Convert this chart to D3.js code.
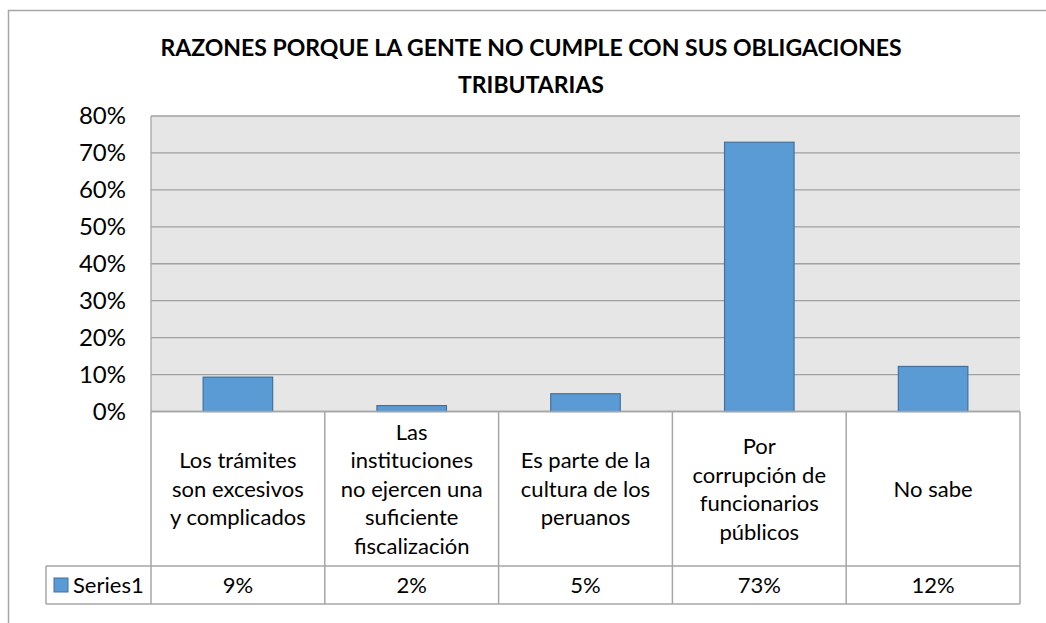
<!DOCTYPE html>
<html>
<head>
<meta charset="utf-8">
<script src="https://cdn.jsdelivr.net/npm/d3@7"></script>
<style>
  body { margin: 0; background: #fff; }
  svg { display: block; font-family: Lato, "Open Sans", sans-serif; }
</style>
</head>
<body>
<div id="chart"></div>
<script>
// data
categories = [
  ['Los trámites', 'son excesivos', 'y complicados'],
  ['Las', 'instituciones', 'no ejercen una', 'suficiente', 'fiscalización'],
  ['Es parte de la', 'cultura de los', 'peruanos'],
  ['Por', 'corrupción de', 'funcionarios', 'públicos'],
  ['No sabe']
];
values = [0.093, 0.016, 0.048, 0.729, 0.122];
valueLabels = ['9%', '2%', '5%', '73%', '12%'];
yTicks = [0, 0.1, 0.2, 0.3, 0.4, 0.5, 0.6, 0.7, 0.8];
seriesName = 'Series1';
titleLines = ['RAZONES PORQUE LA GENTE NO CUMPLE CON SUS OBLIGACIONES', 'TRIBUTARIAS'];

W = 1046;
H = 623;
plot_l = 151;
plot_r = 1020;
plot_t = 116;
plot_b = 411.5;
row1_b = 566;
row2_b = 604;
legend_l = 46;
bar_color = '#5B9BD5';
bar_stroke = '#41719C';
line_color = '#A6A6A6';
table_fs = 22;

svg = d3.select('#chart')
  .append('svg')
  .attr('width', W)
  .attr('height', H);

// outer chart frame (runs off the right/bottom edges)
svg.append('rect')
  .attr('x', 8.5)
  .attr('y', 10.5)
  .attr('width', W + 20)
  .attr('height', H + 20)
  .attr('fill', '#fff')
  .attr('stroke', '#A6A6A6')
  .attr('stroke-width', 1.5);

// title
svg.append('text')
  .attr('x', 531)
  .attr('y', 56)
  .attr('text-anchor', 'middle')
  .attr('font-weight', 'bold')
  .attr('font-size', 23)
  .selectAll('tspan')
  .data(titleLines)
  .enter()
  .append('tspan')
  .attr('x', 531)
  .attr('dy', (d, i) => i == 0 ? 0 : 37)
  .text(d => d);

x = d3.scaleBand()
  .domain(d3.range(values.length))
  .range([plot_l, plot_r])
  .padding(0);

y = d3.scaleLinear()
  .domain([0, 0.8])
  .range([plot_b, plot_t]);

// plot background
svg.append('rect')
  .attr('x', plot_l)
  .attr('y', plot_t)
  .attr('width', plot_r - plot_l)
  .attr('height', plot_b - plot_t)
  .attr('fill', '#E6E6E6');

// gridlines
svg.append('g')
  .selectAll('line')
  .data(yTicks)
  .enter()
  .append('line')
  .attr('x1', plot_l)
  .attr('x2', plot_r)
  .attr('y1', d => y(d))
  .attr('y2', d => y(d))
  .attr('stroke', '#A0A0A0')
  .attr('stroke-width', 1.3);

svg.append('line')
  .attr('x1', plot_l).attr('x2', plot_l)
  .attr('y1', plot_t).attr('y2', plot_b)
  .attr('stroke', line_color)
  .attr('stroke-width', 1.3);

// y axis labels
yAxis = d3.axisLeft(y)
  .tickValues(yTicks)
  .tickSize(0)
  .tickPadding(25)
  .tickFormat(d3.format('.0%'));

gy = svg.append('g')
  .attr('transform', 'translate(' + plot_l + ',0)')
  .call(yAxis);
gy.select('.domain').remove();
gy.selectAll('text')
  .attr('font-family', 'Lato, sans-serif')
  .attr('font-size', 24)
  .attr('fill', '#000');

// bars
bw = x.bandwidth() * 0.4;
svg.append('g')
  .selectAll('rect')
  .data(values)
  .enter()
  .append('rect')
  .attr('x', (d, i) => x(i) + (x.bandwidth() - bw) / 2)
  .attr('y', d => y(d))
  .attr('width', bw)
  .attr('height', d => plot_b - y(d))
  .attr('fill', bar_color)
  .attr('stroke', bar_stroke)
  .attr('stroke-width', 1.2);

// data table
tbl = svg.append('g')
  .attr('stroke', line_color)
  .attr('stroke-width', 1.5)
  .attr('fill', 'none');

tbl.append('line')
  .attr('x1', plot_l).attr('x2', plot_r)
  .attr('y1', plot_b).attr('y2', plot_b);
tbl.append('line')
  .attr('x1', legend_l).attr('x2', plot_r)
  .attr('y1', row1_b).attr('y2', row1_b);
tbl.append('line')
  .attr('x1', legend_l).attr('x2', plot_r)
  .attr('y1', row2_b).attr('y2', row2_b);
tbl.append('line')
  .attr('x1', legend_l).attr('x2', legend_l)
  .attr('y1', row1_b).attr('y2', row2_b);

tbl.selectAll('line.v')
  .data(d3.range(values.length + 1))
  .enter()
  .append('line')
  .attr('class', 'v')
  .attr('x1', i => plot_l + i * x.step())
  .attr('x2', i => plot_l + i * x.step())
  .attr('y1', plot_b)
  .attr('y2', row2_b);

// category labels in header row
lh = 28.5;
cat = svg.append('g')
  .selectAll('text')
  .data(categories)
  .enter()
  .append('text')
  .attr('text-anchor', 'middle')
  .attr('font-size', table_fs)
  .attr('fill', '#000');

cat.each(function (lines, i) {
  cx = x(i) + x.bandwidth() / 2;
  mid = (plot_b + row1_b) / 2;
  y0 = mid - (lines.length - 1) * lh / 2 + 8;
  d3.select(this)
    .selectAll('tspan')
    .data(lines)
    .enter()
    .append('tspan')
    .attr('x', cx)
    .attr('y', (d, j) => y0 + j * lh)
    .text(d => d);
});

// values row
svg.append('g')
  .selectAll('text')
  .data(valueLabels)
  .enter()
  .append('text')
  .attr('x', (d, i) => x(i) + x.bandwidth() / 2)
  .attr('y', (row1_b + row2_b) / 2 + 8)
  .attr('text-anchor', 'middle')
  .attr('font-size', table_fs)
  .attr('fill', '#000')
  .text(d => d);

// legend cell
svg.append('rect')
  .attr('x', 54)
  .attr('y', 578)
  .attr('width', 14)
  .attr('height', 14)
  .attr('fill', bar_color)
  .attr('stroke', bar_stroke)
  .attr('stroke-width', 1);

svg.append('text')
  .attr('x', 73)
  .attr('y', (row1_b + row2_b) / 2 + 8)
  .attr('font-size', table_fs)
  .attr('fill', '#000')
  .text(seriesName);
</script>
</body>
</html>
